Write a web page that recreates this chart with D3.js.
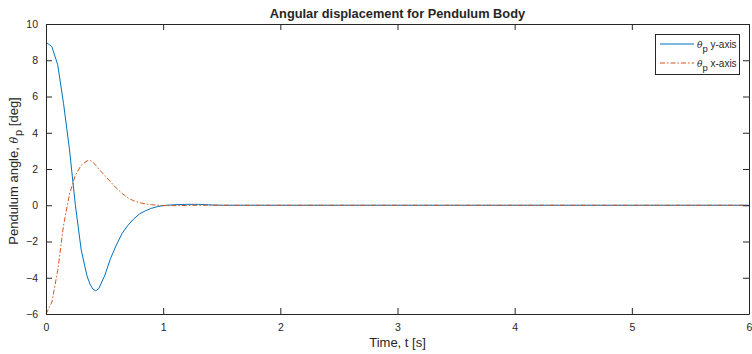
<!DOCTYPE html>
<html>
<head>
<meta charset="utf-8">
<script src="https://cdn.jsdelivr.net/npm/d3@7"></script>
<style>
  html, body { margin: 0; padding: 0; background: #fff; }
  svg text { font-family: "Liberation Sans", Arial, Helvetica, sans-serif; fill: #262626; }
</style>
</head>
<body>
<svg id="chart" width="752" height="354"></svg>
<script>
// Simulation samples: time [s] and pendulum angles [deg]
const time = [0, 0.05, 0.10, 0.15, 0.20, 0.25, 0.30, 0.35, 0.375, 0.40, 0.425, 0.45, 0.50, 0.55, 0.60, 0.65, 0.70, 0.75, 0.80, 0.85, 0.90, 0.95, 1.00, 1.05, 1.10, 1.20, 1.30, 1.40, 1.50, 6.0];
const thetaY = [9.0, 8.75, 7.75, 5.6, 3.1, 0.05, -2.45, -3.9, -4.35, -4.62, -4.72, -4.6, -3.9, -2.95, -2.2, -1.55, -1.1, -0.75, -0.47, -0.3, -0.17, -0.08, -0.02, 0.01, 0.03, 0.05, 0.05, 0.02, 0.0, 0.0];
const thetaX = [-6.0, -5.35, -3.6, -1.1, 0.6, 1.65, 2.2, 2.45, 2.47, 2.38, 2.2, 2.0, 1.65, 1.3, 0.95, 0.65, 0.4, 0.24, 0.14, 0.07, 0.03, 0.0, -0.02, -0.02, -0.02, -0.01, 0.0, 0.0, 0.0, 0.0];

const xTicks = [0, 1, 2, 3, 4, 5, 6];
const yTicks = [-6, -4, -2, 0, 2, 4, 6, 8, 10];

const seriesNames = ["y-axis", "x-axis"];
const seriesColors = ["#0072BD", "#D95319"];
const seriesDash = [null, "5,2,1.5,2"];

const svg = d3.select("#chart");
const m = { left: 46, top: 24, right: 749, bottom: 314 };
const axisColor = "#262626";
const tickLen = 6;

const x = d3.scaleLinear().domain([0, 6]).range([m.left, m.right]);
const y = d3.scaleLinear().domain([-6, 10]).range([m.bottom, m.top]);

// Title
svg.append("text")
  .attr("x", (m.left + m.right) / 2).attr("y", 17.5)
  .attr("text-anchor", "middle")
  .attr("font-size", "12.8px").attr("font-weight", "bold")
  .text("Angular displacement for Pendulum Body");

// Data lines
const series = [thetaY, thetaX];
const line = d3.line().x(d => x(d[0])).y(d => y(d[1]));
series.forEach((vals, i) => {
  svg.append("path")
    .datum(time.map((t, k) => [t, vals[k]]))
    .attr("d", line)
    .attr("fill", "none")
    .attr("stroke", seriesColors[i])
    .attr("stroke-width", 1)
    .attr("stroke-dasharray", seriesDash[i]);
});

// Axes (ticks point inward on all four sides)
const fmt = d3.format("d");
const bottomAxis = d3.axisBottom(x).tickValues(xTicks).tickFormat(fmt).tickSizeInner(-tickLen).tickSizeOuter(0).tickPadding(10);
const topAxis = d3.axisTop(x).tickValues(xTicks).tickFormat("").tickSizeInner(-tickLen).tickSizeOuter(0);
const leftAxis = d3.axisLeft(y).tickValues(yTicks).tickFormat(fmt).tickSizeInner(-tickLen).tickSizeOuter(0).tickPadding(8);
const rightAxis = d3.axisRight(y).tickValues(yTicks).tickFormat("").tickSizeInner(-tickLen).tickSizeOuter(0);

function styleAxis(g) {
  g.selectAll("path.domain").attr("stroke", axisColor).attr("stroke-width", 1);
  g.selectAll(".tick line").attr("stroke", axisColor);
  g.selectAll(".tick text").attr("fill", axisColor).attr("font-size", "10.5px")
    .attr("font-family", "'Liberation Sans', Arial, Helvetica, sans-serif");
}

svg.append("g").attr("transform", `translate(0,${m.bottom})`).call(bottomAxis).call(styleAxis);
svg.append("g").attr("transform", `translate(0,${m.top})`).call(topAxis).call(styleAxis);
svg.append("g").attr("transform", `translate(${m.left},0)`).call(leftAxis).call(styleAxis);
svg.append("g").attr("transform", `translate(${m.right},0)`).call(rightAxis).call(styleAxis);

// Axis labels
svg.append("text")
  .attr("x", (m.left + m.right) / 2).attr("y", 347)
  .attr("text-anchor", "middle").attr("font-size", "13px")
  .text("Time, t [s]");

const yl = svg.append("text")
  .attr("transform", `translate(18,${(m.top + m.bottom) / 2 + 2}) rotate(-90)`)
  .attr("text-anchor", "middle").attr("font-size", "13px");
yl.append("tspan").text("Pendulum angle, ");
yl.append("tspan").attr("font-style", "italic").attr("font-family", "'DejaVu Serif', serif").attr("font-size", "11px").text("θ");
yl.append("tspan").attr("dy", 4).attr("dx", 1).attr("font-size", "11px").text("p");
yl.append("tspan").attr("dy", -4).text(" [deg]");

// Legend
const lg = svg.append("g");
lg.append("rect")
  .attr("x", 655.5).attr("y", 34.5).attr("width", 84).attr("height", 40)
  .attr("fill", "#fff").attr("stroke", axisColor).attr("stroke-width", 1);
seriesNames.forEach((name, i) => {
  const cy = 44 + i * 19;
  lg.append("line")
    .attr("x1", 660).attr("x2", 694).attr("y1", cy).attr("y2", cy)
    .attr("stroke", seriesColors[i]).attr("stroke-width", 1)
    .attr("stroke-dasharray", seriesDash[i]);
  const t = lg.append("text").attr("x", 697).attr("y", cy + 3.5).attr("font-size", "10px");
  t.append("tspan").attr("font-style", "italic").attr("font-family", "'DejaVu Serif', serif").attr("font-size", "9px").text("θ");
  t.append("tspan").attr("dy", 4).attr("font-size", "9.5px").text("p");
  t.append("tspan").attr("dy", -4).text(" " + name);
});
</script>
</body>
</html>
